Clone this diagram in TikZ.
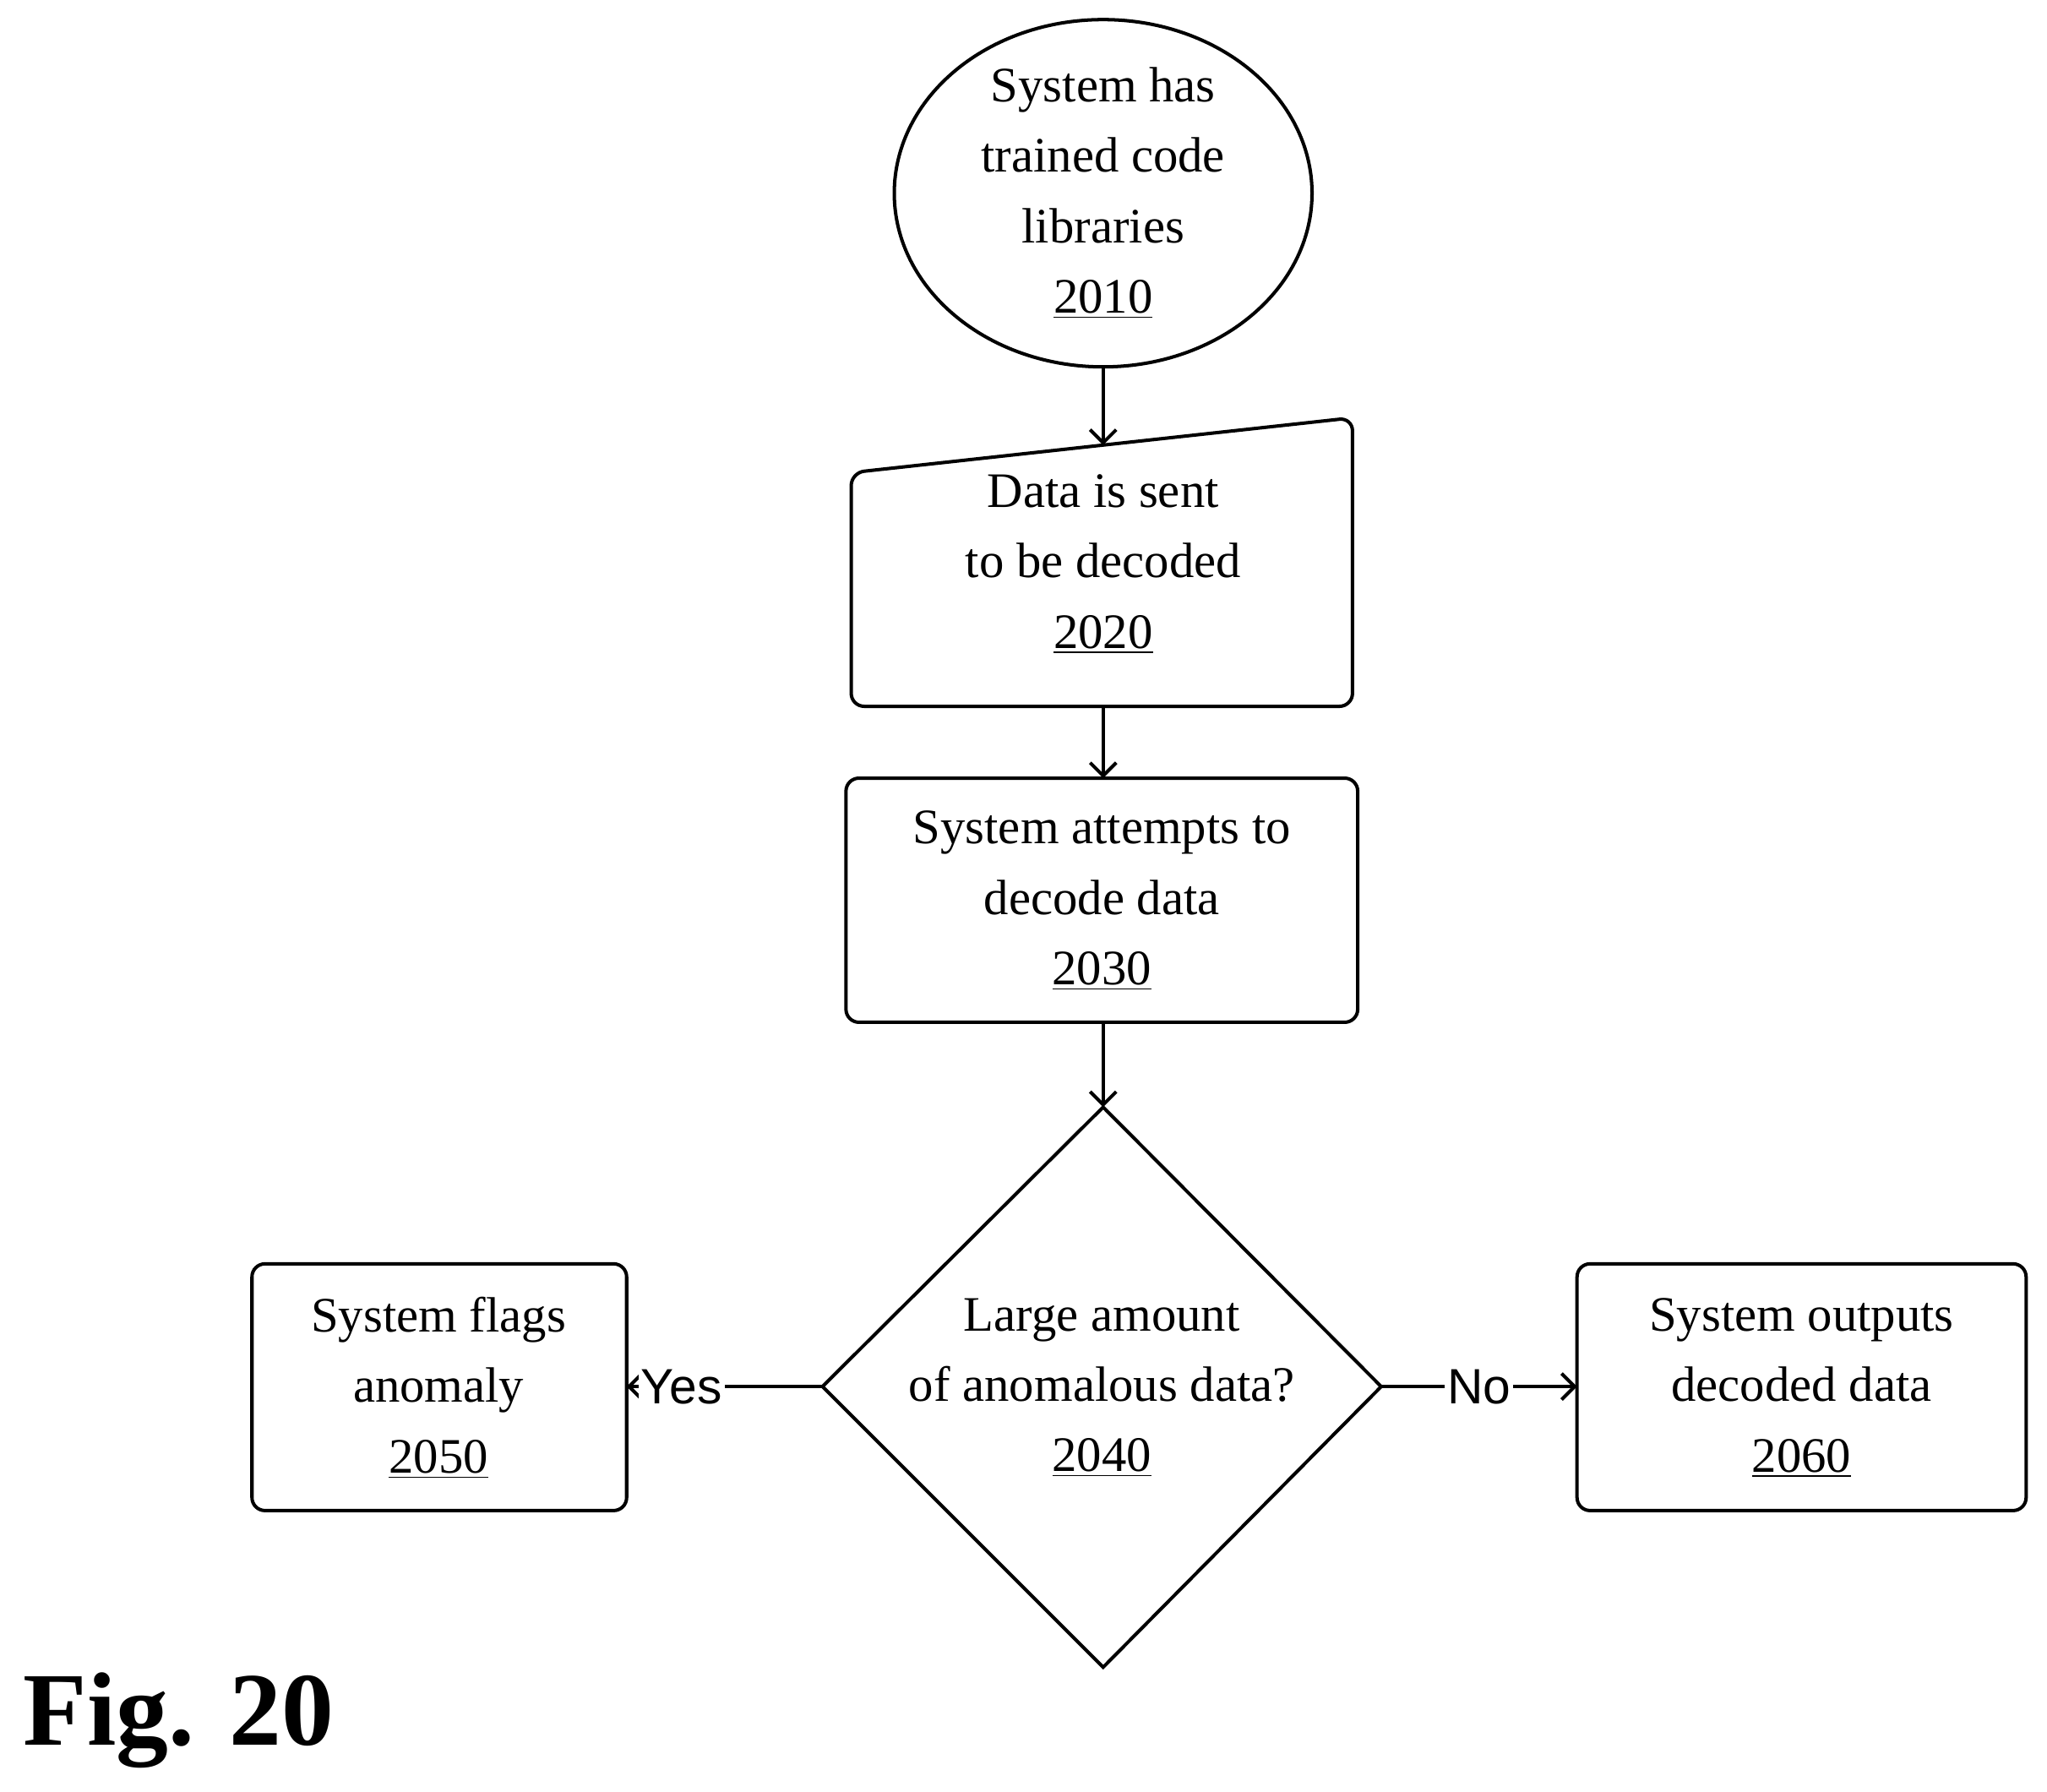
\documentclass[tikz,border=0pt]{standalone}
\usepackage{fontspec}
\setmainfont{Liberation Serif}
\newfontfamily\yn{Liberation Sans}
\usetikzlibrary{shapes.geometric,arrows.meta}
\begin{document}
\begin{tikzpicture}[x=0.5pt,y=-0.5pt,line width=1.3pt,
  box/.style={draw,rounded corners=5pt},
  txt/.style={align=center,font=\fontsize{19}{27}\selectfont},
  arr/.style={-{Straight Barb[length=5pt]}},
  lab/.style={font=\yn\fontsize{19}{20}\selectfont,fill=white,inner sep=1pt}]
\useasboundingbox (0,0) rectangle (1568,1372);
\draw (845,148) ellipse [x radius=160, y radius=133];
\node[txt] (n1) at (845,148) {System has\\trained code\\libraries\\\underline{2010}};
\coordinate (e1) at (845,281);
\draw[box] (652,362) -- (1036,320) -- (1036,541) -- (652,541) -- cycle;
\node[txt] (n2) at (845,432) {Data is sent\\to be decoded\\\underline{2020}};
\coordinate (t2) at (845,341);
\coordinate (b2) at (845,541);
\draw[box] (648,596) rectangle (1040,783);
\node[txt] (n3) at (844,690) {System attempts to\\decode data\\\underline{2030}};
\coordinate (t3) at (845,596);
\coordinate (b3) at (845,783);
\draw (845,848) -- (1058,1062) -- (845,1277) -- (630,1062) -- cycle;
\node[txt] (n4) at (844,1063) {Large amount\\of anomalous data?\\\underline{2040}};
\coordinate (t4) at (845,848);
\coordinate (l4) at (630,1062);
\coordinate (r4) at (1058,1062);
\draw[box] (193,968) rectangle (480,1157);
\node[txt] (n5) at (336,1063) {System flags\\anomaly\\\underline{2050}};
\coordinate (r5) at (480,1062);
\draw[box] (1208,968) rectangle (1552,1157);
\node[txt] (n6) at (1380,1063) {System outputs\\decoded data\\\underline{2060}};
\coordinate (l6) at (1208,1062);
\draw[arr] (e1) -- (t2);
\draw[arr] (b2) -- (t3);
\draw[arr] (b3) -- (t4);
\draw[arr] (l4) -- node[lab,pos=0.72] {Yes} (r5);
\draw[arr] (r4) -- node[lab,pos=0.5] {No} (l6);
\node[font=\bfseries\fontsize{40}{44}\selectfont,anchor=west] (fig) at (10,1318) {Fig. 20};
\end{tikzpicture}
\end{document}
